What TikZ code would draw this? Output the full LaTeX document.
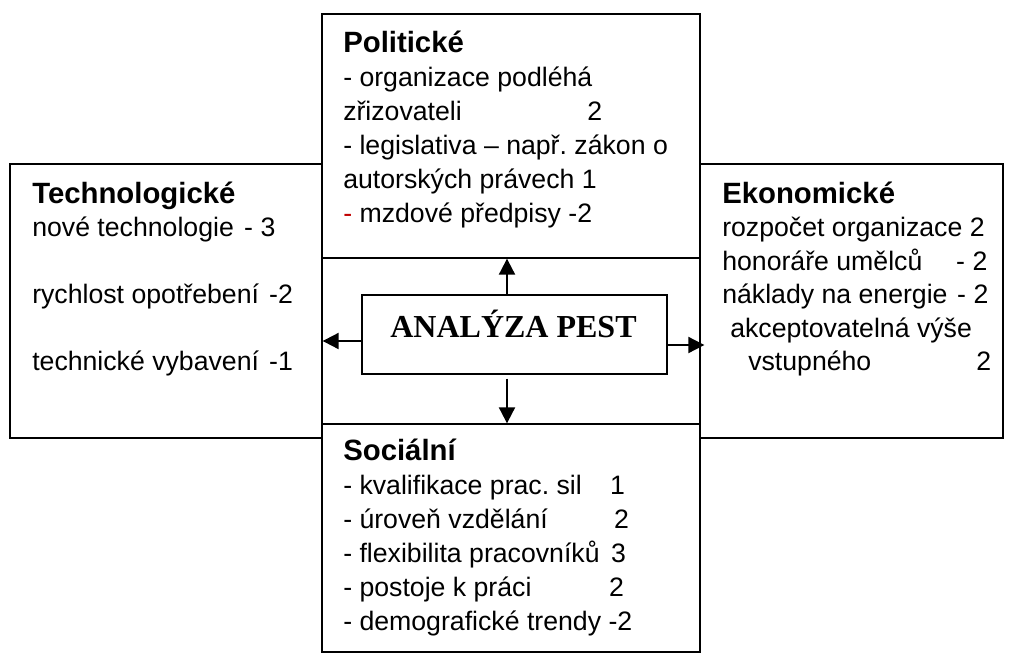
\documentclass[tikz,border=0pt]{standalone}
\usepackage{fontspec}
\setmainfont{Liberation Sans}
\newfontfamily\serifpest{Liberation Serif}
\usetikzlibrary{fit,arrows.meta}
\newdimen\pxu \pxu=0.75pt
\definecolor{darkred}{RGB}{192,0,0}
\newcommand\numat[3]{\makebox[#1\pxu][l]{#2}#3}
\frenchspacing
\begin{document}
\begin{tikzpicture}[x=0.75pt,y=-0.75pt,
  box/.style={draw, line width=1pt, inner sep=0pt},
  ttl/.style={anchor=base west, inner sep=0pt, font=\fontsize{22}{26}\selectfont\bfseries},
  txt/.style={anchor=base west, inner sep=0pt, font=\fontsize{20}{24}\selectfont},
  arr/.style={line width=1.5pt, -{Triangle[length=12pt,width=12pt]}}]
\useasboundingbox (0,0) rectangle (1013,668);
% boxes
\node[box, fit={(10,164) (322,438)}] (tech) {};
\node[box, fit={(700,164) (1003,438)}] (eko) {};
\node[box, fit={(322,14) (700,258)}] (pol) {};
\node[box, fit={(322,424) (700,652)}] (soc) {};
\node[box, fit={(322,258) (700,424)}] (mid) {};
\node[box, fit={(362,295) (667,374)}] (c) {};
\node[anchor=base, inner sep=0pt, font=\serifpest\bfseries\fontsize{24}{28}\selectfont] (ctext) at (513.5,337) {ANALÝZA PEST};
% connectors
\coordinate (ux) at (507,0);
\coordinate (ly) at (0,341);
\coordinate (ry) at (0,345);
\draw[arr] (c.north -| ux) -- (pol.south -| ux);
\draw[arr] ([yshift=-3pt]c.south -| ux) -- (soc.north -| ux);
\draw[arr] (c.west |- ly) -- (tech.east |- ly);
\draw[arr] (c.east |- ry) -- ([xshift=3.75pt]eko.west |- ry);
% Politické
\node[ttl] (p0) at (343,52) {Politické};
\node[txt] (p1) at (343,86) {- organizace podléhá};
\node[txt] (p2) at (343,120) {\numat{244}{zřizovateli}{2}};
\node[txt] (p3) at (343,154) {- legislativa – např. zákon o};
\node[txt] (p4) at (343,188) {autorských právech 1};
\node[txt] (p5) at (343,222) {\textcolor{darkred}{-} mzdové předpisy -2};
% Technologické
\node[ttl] (t0) at (32,203) {Technologické};
\node[txt] (t1) at (32,236.5) {\numat{212}{nové technologie}{- 3}};
\node[txt] (t2) at (32,303.5) {\numat{237}{rychlost opotřebení}{-2}};
\node[txt] (t3) at (32,370.5) {\numat{237}{technické vybavení}{-1}};
% Ekonomické
\node[ttl] (e0) at (722,203) {Ekonomické};
\node[txt] (e1) at (722,236.5) {rozpočet organizace 2};
\node[txt] (e2) at (722,270) {\numat{234}{honoráře umělců}{- 2}};
\node[txt] (e3) at (722,303.5) {\numat{235}{náklady na energie}{- 2}};
\node[txt] (e4) at (730,337) {akceptovatelná výše};
\node[txt] (e5) at (748,370.5) {\numat{228}{vstupného}{2}};
% Sociální
\node[ttl] (s0) at (343,460) {Sociální};
\node[txt] (s1) at (343,494) {\numat{267}{- kvalifikace prac. sil}{1}};
\node[txt] (s2) at (343,528) {\numat{271}{- úroveň vzdělání}{2}};
\node[txt] (s3) at (343,562) {\numat{268}{- flexibilita pracovníků}{3}};
\node[txt] (s4) at (343,596) {\numat{266}{- postoje k práci}{2}};
\node[txt] (s5) at (343,630) {- demografické trendy -2};
\end{tikzpicture}
\end{document}
